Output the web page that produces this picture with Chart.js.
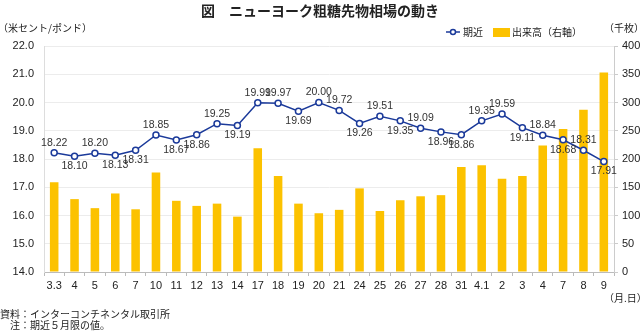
<!DOCTYPE html>
<html>
<head>
<meta charset="utf-8">
<script src="https://cdn.jsdelivr.net/npm/chart.js@4"></script>
<style>
  html, body { margin: 0; padding: 0; background: #fff; }
  #wrap { width: 640px; height: 332px; position: relative; }
</style>
</head>
<body>
<div id="wrap"><canvas id="myChart" width="640" height="332"></canvas></div>
<script>
const dates = ['3.3', '4', '5', '6', '7', '10', '11', '12', '13', '14', '17', '18', '19', '20',
    '21', '24', '25', '26', '27', '28', '31', '4.1', '2', '3', '4', '7', '8', '9'];
const nearPrice = [18.22, 18.10, 18.20, 18.13, 18.31, 18.85, 18.67, 18.86, 19.25, 19.19,
    19.99, 19.97, 19.69, 20.00, 19.72, 19.26, 19.51, 19.35, 19.09, 18.96,
    18.86, 19.35, 19.59, 19.11, 18.84, 18.68, 18.31, 17.91];
const volume = [159, 129, 113, 139, 111, 176, 126, 117, 121, 98,
    219, 170, 121, 104, 110, 148, 108, 127, 134, 136,
    186, 189, 165, 170, 224, 253, 287, 353];
// label above (1) or below (-1) the point
const labelPos = [1, -1, 1, -1, -1, 1, -1, -1, 1, -1,
    1, 1, -1, 1, 1, -1, 1, -1, 1, -1,
    -1, 1, 1, -1, 1, -1, 1, -1];

const jp = '"Noto Sans CJK JP", sans-serif';
const num = '"Liberation Sans", Arial, sans-serif';
const blue = '#1b3a9a';
const yellow = '#fcc200';

const textPlugin = {
    id: 'texts',
    afterDraw(chart) {
        const c = chart.ctx;
        c.save();
        c.fillStyle = '#222';
        c.textBaseline = 'middle';
        c.font = 'bold 14px ' + jp;
        c.textAlign = 'center';
        c.fillText('図　ニューヨーク粗糖先物相場の動き', 320, 11);
        c.font = '10px ' + jp;
        c.textAlign = 'left';
        c.fillText('（米セント/ポンド）', -2, 28);
        c.fillText('（千枚）', 604, 28);
        c.fillText('（月.日）', 604, 298);
        c.fillText('資料：インターコンチネンタル取引所', 0, 314);
        c.fillText('　注：期近５月限の値。', 0, 325);
        // legend
        c.strokeStyle = blue;
        c.lineWidth = 1.5;
        c.beginPath();
        c.moveTo(446, 32); c.lineTo(460, 32);
        c.stroke();
        c.fillStyle = '#fff';
        c.beginPath();
        c.arc(453, 32, 2.5, 0, Math.PI * 2);
        c.fill(); c.stroke();
        c.fillStyle = '#222';
        c.fillText('期近', 463, 32);
        c.fillStyle = yellow;
        c.fillRect(493, 28, 17, 9);
        c.fillStyle = '#222';
        c.fillText('出来高（右軸）', 512, 32);
        // data labels
        const meta = chart.getDatasetMeta(1);
        c.font = '10.5px ' + num;
        c.textAlign = 'center';
        meta.data.forEach((pt, i) => {
            c.fillStyle = '#333';
            c.fillText(nearPrice[i].toFixed(2), pt.x, pt.y - labelPos[i] * 10);
        });
        c.restore();
    }
};

const ctx = document.getElementById('myChart').getContext('2d');
const myChart = new Chart(ctx, {
    data: {
        labels: dates,
        datasets: [{
            type: 'bar',
            label: '出来高（右軸）',
            data: volume,
            yAxisID: 'y1',
            backgroundColor: yellow,
            barPercentage: 0.42,
            categoryPercentage: 1,
            order: 2
        }, {
            type: 'line',
            label: '期近',
            data: nearPrice,
            yAxisID: 'y',
            borderColor: blue,
            borderWidth: 1.5,
            pointRadius: 3,
            pointBorderWidth: 1.5,
            pointBackgroundColor: '#fff',
            pointBorderColor: blue,
            tension: 0,
            order: 1
        }]
    },
    options: {
        responsive: false,
        animation: false,
        layout: { padding: { top: 46, bottom: 40, left: 0, right: 0 } },
        plugins: { legend: { display: false }, tooltip: { enabled: false } },
        scales: {
            x: {
                offset: true,
                grid: { display: true, drawOnChartArea: false, offset: true, tickLength: 4, color: '#bbb' },
                border: { color: '#bbb' },
                ticks: { color: '#222', font: { family: num, size: 11 }, padding: 3, autoSkip: false, maxRotation: 0 },
                afterFit(s) { s.height = 20; }
            },
            y: {
                position: 'left',
                min: 14, max: 22,
                ticks: { stepSize: 1, color: '#222', font: { family: num, size: 11 }, callback: v => v.toFixed(1), padding: 10 },
                grid: { color: '#ececec', tickLength: 0 },
                border: { color: '#ddd' },
                afterFit(s) { s.width = 44; }
            },
            y1: {
                position: 'right',
                min: 0, max: 400,
                ticks: { stepSize: 50, color: '#222', font: { family: num, size: 11 }, padding: 4 },
                grid: { drawOnChartArea: false, tickLength: 4, color: '#ccc' },
                border: { color: '#ccc' },
                afterFit(s) { s.width = 26; }
            }
        }
    },
    plugins: [textPlugin]
});
</script>
</body>
</html>
